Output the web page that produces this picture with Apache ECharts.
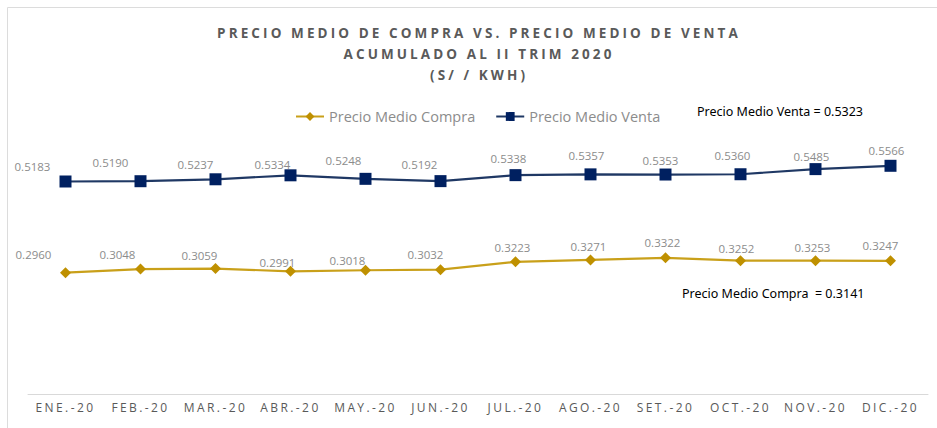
<!DOCTYPE html>
<html>
<head>
<meta charset="utf-8">
<script src="https://cdn.jsdelivr.net/npm/echarts@6/dist/echarts.min.js"></script>
<style>
  html, body { margin: 0; padding: 0; background: #fff; }
  #chart { width: 937px; height: 428px; }
  /* letter spacing for the title and the month labels (svg renderer) */
  #chart text[fill="rgb(90,90,90)"], #chart text[fill="#5a5a5a"] { letter-spacing: 3.1px; }
  #chart text[fill="rgb(89,89,89)"], #chart text[fill="#595959"] { letter-spacing: 2.4px; }
</style>
</head>
<body>
<div id="chart"></div>
<script>
// ==============================================================
// Precio medio compra vs venta
// ==============================================================
var months = ['ENE.-20', 'FEB.-20', 'MAR.-20', 'ABR.-20', 'MAY.-20', 'JUN.-20',
              'JUL.-20', 'AGO.-20', 'SET.-20', 'OCT.-20', 'NOV.-20', 'DIC.-20'];
var compra = [0.2960, 0.3048, 0.3059, 0.2991, 0.3018, 0.3032,
              0.3223, 0.3271, 0.3322, 0.3252, 0.3253, 0.3247];
var venta = [0.5183, 0.5190, 0.5237, 0.5334, 0.5248, 0.5192,
             0.5338, 0.5357, 0.5353, 0.5360, 0.5485, 0.5566];
var promedioCompra = 0.3141;
var promedioVenta = 0.5323;

// label nudges (as placed in the original sheet)
var ventaLabelShift = [[-33, -15], [-30, -19], [-20, -15], [-18, -11], [-22, -18], [-21, -17],
                       [-7, -17], [-4, -19], [-5, -14], [-8, -19], [-4, -13], [-4, -15]];
var compraLabelShift = [[-32, -18], [-23, -15], [-16, -13], [-13, -9], [-18, -10], [-15, -15],
                        [-3, -14], [-2, -13], [-3, -15], [-4, -12], [-3, -13], [-10, -15]];

function withLabels(values, shifts) {
    return values.map(function (v, i) {
        return { value: v, label: { offset: shifts[i] } };
    });
}

var chart = echarts.init(document.getElementById('chart'), null, { renderer: 'svg' });

var labelStyle = {
    show: true,
    position: 'inside',
    color: '#8c8c8c',
    fontSize: 11.5,
    fontFamily: 'Open Sans',
    formatter: function (p) { return p.value.toFixed(4); }
};

option = {
    animation: false,
    backgroundColor: '#fff',
    title: {
        text: 'PRECIO MEDIO DE COMPRA VS. PRECIO MEDIO DE VENTA\nACUMULADO AL II TRIM 2020\n(S/ / KWH)',
        left: 474,
        textAlign: 'center',
        top: 17,
        textStyle: {
            color: '#5a5a5a',
            fontFamily: 'Open Sans',
            fontWeight: 'bold',
            fontSize: 13.5,
            lineHeight: 21
        }
    },
    legend: {
        left: 290,
        top: 104,
        itemWidth: 28,
        itemHeight: 11,
        itemGap: 20,
        textStyle: { color: '#8c8c8c', fontSize: 14.5, fontFamily: 'Open Sans' },
        data: ['Precio Medio Compra', 'Precio Medio Venta']
    },
    grid: { left: 28, right: 9, top: 148, bottom: 34 },
    xAxis: {
        type: 'category',
        data: months,
        axisLine: { lineStyle: { color: '#d9d9d9', width: 1 } },
        axisTick: { show: false },
        axisLabel: {
            interval: 0,
            margin: 7,
            color: '#595959',
            fontSize: 12,
            fontFamily: 'Open Sans'
        }
    },
    yAxis: {
        type: 'value',
        min: 0,
        max: 0.6,
        show: false,
        splitLine: { show: false }
    },
    graphic: [
        {
            type: 'rect',
            silent: true,
            z: -10,
            shape: { x: 7.5, y: 7.5, width: 1000, height: 1000 },
            style: { fill: 'none', stroke: '#dcdcdc', lineWidth: 1 }
        },
        {
            type: 'text',
            left: 697,
            top: 105,
            style: {
                text: 'Precio Medio Venta = ' + promedioVenta.toFixed(4),
                fill: '#000',
                font: '12.5px "Noto Sans"'
            }
        },
        {
            type: 'text',
            left: 682,
            top: 287,
            style: {
                text: 'Precio Medio Compra  = ' + promedioCompra.toFixed(4),
                fill: '#000',
                font: '12.5px "Noto Sans"'
            }
        }
    ],
    series: [
        {
            name: 'Precio Medio Compra',
            type: 'line',
            symbol: 'diamond',
            symbolSize: 11,
            itemStyle: { color: '#bf9000' },
            lineStyle: { color: '#c9a01a', width: 2.2 },
            label: labelStyle,
            data: withLabels(compra, compraLabelShift)
        },
        {
            name: 'Precio Medio Venta',
            type: 'line',
            symbol: 'rect',
            symbolSize: 12,
            itemStyle: { color: '#002060' },
            lineStyle: { color: '#1f3864', width: 2.2 },
            label: labelStyle,
            data: withLabels(venta, ventaLabelShift)
        }
    ]
};

chart.setOption(option, true);
</script>
</body>
</html>
